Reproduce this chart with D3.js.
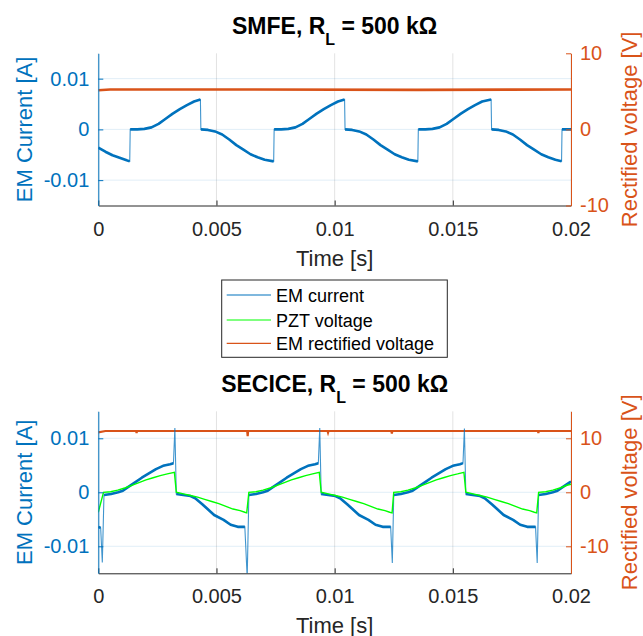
<!DOCTYPE html>
<html>
<head>
<meta charset="utf-8">
<script src="https://cdn.jsdelivr.net/npm/d3@7"></script>
<style>
  body { margin: 0; background: #fff; }
  svg { font-family: "Liberation Sans", Arial, Helvetica, sans-serif; }
</style>
</head>
<body>
<svg id="chart" width="643" height="636"></svg>
<script>
// ---- data ----
const timeTicks = [0, 0.005, 0.01, 0.015, 0.02];
const currentTicks = [-0.01, 0, 0.01];
const legendLabels = ["EM current", "PZT voltage", "EM rectified voltage"];
const seriesColors = ["#0072BD", "#00FF00", "#D95319"];

// SMFE: [time s, current A]
const smfeCurrent = [
  [0, -0.0036], [0.0003, -0.0044], [0.0006, -0.0051], [0.0009, -0.0056], [0.0012, -0.0061], [0.00133, -0.0063],
  [0.00135, 0], [0.00165, 0], [0.00195, 0.0001], [0.00225, 0.0004], [0.00255, 0.0011], [0.00285, 0.0021], [0.00315, 0.0031], [0.00345, 0.004], [0.00375, 0.0048], [0.00405, 0.0055], [0.00432, 0.0059],
  [0.00434, 0], [0.00464, -0.0001], [0.00494, -0.0004], [0.00524, -0.001], [0.00554, -0.002], [0.00584, -0.0031], [0.00614, -0.004], [0.00644, -0.0049], [0.00674, -0.0055], [0.00704, -0.006], [0.00742, -0.0063],
  [0.00744, 0], [0.00774, 0], [0.00804, 0.0001], [0.00834, 0.0004], [0.00864, 0.0011], [0.00894, 0.0021], [0.00924, 0.0031], [0.00954, 0.004], [0.00984, 0.0048], [0.01014, 0.0055], [0.01042, 0.0059],
  [0.01044, 0], [0.01074, -0.0001], [0.01104, -0.0004], [0.01134, -0.001], [0.01164, -0.002], [0.01194, -0.0031], [0.01224, -0.004], [0.01254, -0.0049], [0.01284, -0.0055], [0.01314, -0.006], [0.01352, -0.0063],
  [0.01354, 0], [0.01384, 0], [0.01414, 0.0001], [0.01444, 0.0004], [0.01474, 0.0011], [0.01504, 0.0021], [0.01534, 0.0031], [0.01564, 0.004], [0.01594, 0.0048], [0.01624, 0.0055], [0.01662, 0.0059],
  [0.01664, 0], [0.01694, -0.0001], [0.01724, -0.0004], [0.01754, -0.001], [0.01784, -0.002], [0.01814, -0.0031], [0.01844, -0.004], [0.01874, -0.0049], [0.01904, -0.0055], [0.01934, -0.006], [0.0196, -0.0063],
  [0.01962, 0], [0.0199, 0], [0.02, 0]
];
// SMFE: [time s, rectified voltage V]
const smfeRectified = [[0, 5.15], [0.0005, 5.25], [0.006, 5.25], [0.0135, 5.2], [0.02, 5.25]];

// SECICE: [time s, current A]
const seciceCurrent = [
  [0, -0.0064], [0.0001, -0.0066], [0.00017, -0.013], [0.00024, -0.0005],
  [0.00054, -0.0003], [0.00084, 0], [0.00104, 0.0003], [0.00124, 0.0009], [0.00154, 0.0018], [0.00184, 0.0027], [0.00214, 0.0035], [0.00244, 0.0043], [0.00274, 0.0049], [0.00304, 0.0052], [0.00318, 0.0054],
  [0.00324, 0.0119], [0.0033, -0.0003],
  [0.0036, -0.0005], [0.0039, -0.0007], [0.0041, -0.0011], [0.0044, -0.0022], [0.0046, -0.003], [0.0049, -0.0042], [0.0053, -0.0051], [0.0056, -0.006], [0.0059, -0.0064], [0.0062, -0.0064],
  [0.0063, -0.0158], [0.00637, -0.0005],
  [0.00667, -0.0003], [0.00697, 0], [0.00717, 0.0003], [0.00737, 0.0009], [0.00767, 0.0018], [0.00797, 0.0027], [0.00827, 0.0035], [0.00857, 0.0043], [0.00887, 0.0049], [0.00917, 0.0052], [0.00931, 0.0054],
  [0.00937, 0.0119], [0.00943, -0.0003],
  [0.00973, -0.0005], [0.01003, -0.0007], [0.01023, -0.0011], [0.01053, -0.0022], [0.01073, -0.003], [0.01103, -0.0042], [0.01143, -0.0051], [0.01173, -0.006], [0.01203, -0.0064], [0.01237, -0.0064],
  [0.01244, -0.0131], [0.0125, -0.0005],
  [0.0128, -0.0003], [0.0131, 0], [0.0133, 0.0003], [0.0135, 0.0009], [0.0138, 0.0018], [0.0141, 0.0027], [0.0144, 0.0035], [0.0147, 0.0043], [0.015, 0.0049], [0.0153, 0.0052], [0.01543, 0.0054],
  [0.01549, 0.0118], [0.01555, -0.0003],
  [0.01585, -0.0005], [0.01615, -0.0007], [0.01635, -0.0011], [0.01665, -0.0022], [0.01685, -0.003], [0.01715, -0.0042], [0.01755, -0.0051], [0.01785, -0.006], [0.01815, -0.0064], [0.0185, -0.0064],
  [0.01857, -0.0131], [0.01863, -0.0005],
  [0.01893, -0.0003], [0.01923, 0], [0.01943, 0.0003], [0.01963, 0.0009], [0.01993, 0.0018], [0.02, 0.002]
];
// SECICE: [time s, PZT voltage, plotted on the current axis]
const seciceVoltage = [
  [0, -0.0037], [0.00022, 0], [0.00052, 0.0001], [0.00082, 0.0004], [0.00112, 0.0008], [0.00142, 0.0013], [0.00172, 0.0018], [0.00202, 0.0023], [0.00232, 0.0027], [0.00262, 0.0031], [0.00292, 0.0034], [0.00322, 0.0037],
  [0.0033, 0], [0.0036, -0.0003], [0.0039, -0.0006], [0.0042, -0.0009], [0.0045, -0.0013], [0.0048, -0.0017], [0.0051, -0.0021], [0.0054, -0.0026], [0.0057, -0.0031], [0.006, -0.0034], [0.0062, -0.0037], [0.00628, -0.0038],
  [0.00637, 0], [0.00667, 0.0001], [0.00697, 0.0004], [0.00727, 0.0008], [0.00757, 0.0013], [0.00787, 0.0018], [0.00817, 0.0023], [0.00847, 0.0027], [0.00877, 0.0031], [0.00907, 0.0034], [0.00935, 0.0037],
  [0.00943, 0], [0.00973, -0.0003], [0.01003, -0.0006], [0.01033, -0.0009], [0.01063, -0.0013], [0.01093, -0.0017], [0.01123, -0.0021], [0.01153, -0.0026], [0.01183, -0.0031], [0.01213, -0.0034], [0.01233, -0.0037], [0.01243, -0.0038],
  [0.0125, 0], [0.0128, 0.0001], [0.0131, 0.0004], [0.0134, 0.0008], [0.0137, 0.0013], [0.014, 0.0018], [0.0143, 0.0023], [0.0146, 0.0027], [0.0149, 0.0031], [0.0152, 0.0034], [0.01547, 0.0037],
  [0.01555, 0], [0.01585, -0.0003], [0.01615, -0.0006], [0.01645, -0.0009], [0.01675, -0.0013], [0.01705, -0.0017], [0.01735, -0.0021], [0.01765, -0.0026], [0.01795, -0.0031], [0.01825, -0.0034], [0.01845, -0.0037], [0.01855, -0.0038],
  [0.01863, 0], [0.01893, 0.0001], [0.01923, 0.0004], [0.01953, 0.0008], [0.01983, 0.0013], [0.02, 0.0015]
];
// SECICE: [time s, rectified voltage V]
const seciceRectified = [
  [0, 11.1], [0.0003, 11.35], [0.0016, 11.35], [0.00162, 11.0], [0.00164, 11.35], [0.0063, 11.35], [0.00632, 10.4], [0.00634, 11.35],
  [0.0097, 11.35], [0.00972, 11.05], [0.00974, 11.35], [0.0124, 11.35], [0.01242, 10.9], [0.01244, 11.35],
  [0.0186, 11.35], [0.01862, 11.0], [0.01864, 11.35], [0.02, 11.35]
];

// ---- layout ----
const plotLeft = 98.3, plotRight = 571;
const axisGray = "#262626";
const svg = d3.select("#chart");

const panels = [
  { id: "p1", name: "SMFE", top: 53.3, bottom: 205.5, rightDomain: [-10, 10], rightTicks: [-10, 0, 10],
    current: smfeCurrent, pzt: null, rect: smfeRectified, rectWidth: 2.6 },
  { id: "p2", name: "SECICE", top: 411.3, bottom: 573.3, rightDomain: [-15, 15], rightTicks: [-10, 0, 10],
    current: seciceCurrent, pzt: seciceVoltage, rect: seciceRectified, rectWidth: 2.2 }
];

// break a trace into runs wherever it jumps almost vertically
function splitRuns(pts, x, y) {
  const runs = [];
  let cur = [pts[0]];
  for (let i = 1; i < pts.length; i++) {
    const dx = Math.abs(x(pts[i][0]) - x(pts[i - 1][0]));
    const dy = Math.abs(y(pts[i][1]) - y(pts[i - 1][1]));
    if (dy > 10 && dx < 3) { runs.push(cur); cur = [pts[i]]; }
    else cur.push(pts[i]);
  }
  runs.push(cur);
  return runs.filter(r => r.length > 1);
}

function drawPanel(cfg) {
  const g = svg.append("g");
  const x = d3.scaleLinear().domain([0, 0.02]).range([plotLeft, plotRight]);
  const y = d3.scaleLinear().domain([-0.015, 0.015]).range([cfg.bottom, cfg.top]);
  const yR = d3.scaleLinear().domain(cfg.rightDomain).range([cfg.bottom, cfg.top]);

  // grid
  g.append("g").selectAll("line").data(timeTicks).join("line")
    .attr("x1", d => x(d)).attr("x2", d => x(d))
    .attr("y1", cfg.top).attr("y2", cfg.bottom)
    .attr("stroke", axisGray).attr("stroke-opacity", 0.13);
  g.append("g").selectAll("line").data(currentTicks).join("line")
    .attr("x1", plotLeft).attr("x2", plotRight)
    .attr("y1", d => y(d)).attr("y2", d => y(d))
    .attr("stroke", "#0072BD").attr("stroke-opacity", 0.12);

  svg.append("clipPath").attr("id", "clip-" + cfg.id).append("rect")
    .attr("x", plotLeft).attr("y", cfg.top)
    .attr("width", plotRight - plotLeft).attr("height", cfg.bottom - cfg.top);
  const plot = g.append("g").attr("clip-path", `url(#clip-${cfg.id})`);

  const lineL = d3.line().x(d => x(d[0])).y(d => y(d[1]));
  const lineR = d3.line().x(d => x(d[0])).y(d => yR(d[1]));

  // rectified voltage (right axis)
  plot.append("path").datum(cfg.rect).attr("d", lineR)
    .attr("fill", "none").attr("stroke", seriesColors[2]).attr("stroke-width", cfg.rectWidth);

  // EM current: thin for the jumps, thick (noisy band) elsewhere
  plot.append("path").datum(cfg.current).attr("d", lineL)
    .attr("fill", "none").attr("stroke", seriesColors[0]).attr("stroke-opacity", 0.75).attr("stroke-width", 1.1);
  plot.append("g").selectAll("path").data(splitRuns(cfg.current, x, y)).join("path")
    .attr("d", lineL).attr("fill", "none").attr("stroke", seriesColors[0])
    .attr("stroke-width", 2.6).attr("stroke-linejoin", "round");

  if (cfg.pzt) {
    plot.append("path").datum(cfg.pzt).attr("d", lineL)
      .attr("fill", "none").attr("stroke", seriesColors[1]).attr("stroke-width", 1.4);
  }

  // axes
  const xAxis = g.append("g").attr("transform", `translate(0,${cfg.bottom})`)
    .call(d3.axisBottom(x).tickValues(timeTicks).tickFormat(d => String(d))
      .tickSize(-5).tickSizeOuter(0).tickPadding(16));
  xAxis.select(".domain").attr("stroke", axisGray);
  xAxis.selectAll(".tick line").attr("stroke", axisGray);
  xAxis.selectAll("text").attr("font-size", 20).attr("fill", axisGray)
    .attr("font-family", "Liberation Sans, Arial, sans-serif");

  const yAxis = g.append("g").attr("transform", `translate(${plotLeft},0)`)
    .call(d3.axisLeft(y).tickValues(currentTicks).tickFormat(d => String(d))
      .tickSize(-5).tickSizeOuter(0).tickPadding(9));
  yAxis.select(".domain").attr("stroke", seriesColors[0]);
  yAxis.selectAll(".tick line").attr("stroke", seriesColors[0]);
  yAxis.selectAll("text").attr("font-size", 20).attr("fill", seriesColors[0])
    .attr("font-family", "Liberation Sans, Arial, sans-serif");

  const rAxis = g.append("g").attr("transform", `translate(${plotRight},0)`)
    .call(d3.axisRight(yR).tickValues(cfg.rightTicks).tickFormat(d => String(d))
      .tickSize(-5).tickSizeOuter(0).tickPadding(9));
  rAxis.select(".domain").attr("stroke", seriesColors[2]);
  rAxis.selectAll(".tick line").attr("stroke", seriesColors[2]);
  rAxis.selectAll("text").attr("font-size", 20).attr("fill", seriesColors[2])
    .attr("font-family", "Liberation Sans, Arial, sans-serif");

  // labels
  const cx = (plotLeft + plotRight) / 2, cy = (cfg.top + cfg.bottom) / 2;
  g.append("text").attr("transform", `translate(32,${cy}) rotate(-90)`)
    .attr("text-anchor", "middle").attr("font-size", 22).attr("fill", seriesColors[0])
    .text("EM Current [A]");
  g.append("text").attr("transform", `translate(637,${cy}) rotate(-90)`)
    .attr("text-anchor", "middle").attr("font-size", 22).attr("fill", seriesColors[2])
    .text("Rectified voltage [V]");
  g.append("text").attr("x", cx).attr("y", cfg.bottom + 60)
    .attr("text-anchor", "middle").attr("font-size", 22).attr("fill", axisGray)
    .text("Time [s]");

  const title = g.append("text").attr("x", cx).attr("y", cfg.top - 19.6)
    .attr("text-anchor", "middle").attr("font-size", 23).attr("font-weight", "bold").attr("fill", "#000");
  title.append("tspan").text(cfg.name + ", R");
  title.append("tspan").attr("font-size", 16).attr("dy", 11.6).text("L");
  title.append("tspan").attr("dy", -11.6).text(" = 500 k\u03A9");
}

panels.forEach(drawPanel);

// legend
const legend = svg.append("g");
legend.append("rect").attr("x", 221.7).attr("y", 280).attr("width", 225.6).attr("height", 77.3)
  .attr("fill", "#fff").attr("stroke", axisGray).attr("stroke-width", 1);
const rows = legend.selectAll("g.row").data(legendLabels).join("g").attr("class", "row")
  .attr("transform", (d, i) => `translate(0,${[295, 320, 343.3][i]})`);
rows.append("line").attr("x1", 226.7).attr("x2", 271).attr("y1", 0).attr("y2", 0)
  .attr("stroke", (d, i) => seriesColors[i]).attr("stroke-width", 1.2);
rows.append("text").attr("x", 276).attr("y", 6.5).attr("font-size", 18).attr("fill", "#000")
  .text(d => d);
</script>
</body>
</html>
